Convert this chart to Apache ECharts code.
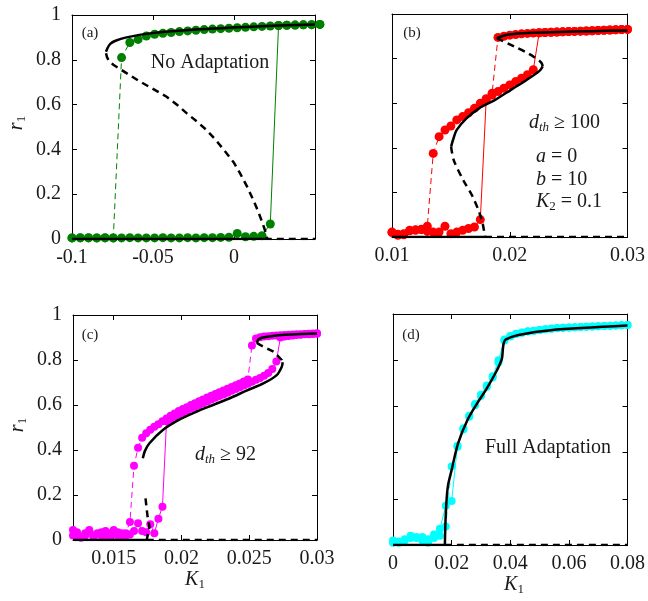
<!DOCTYPE html>
<html lang="en">
<head>
<meta charset="UTF-8" />
<title>r1 vs K1</title>
<style>
  html, body { margin: 0; padding: 0; background: #fff; }
  #main { width: 648px; height: 601px; }
</style>
</head>
<body>
<div id="main"></div>
<script src="https://cdn.jsdelivr.net/npm/echarts@6.0.0/dist/echarts.min.js"></script>
<script>
// ---- (a) no adaptation ----
var aK = [-0.1, -0.0949, -0.0898, -0.0847, -0.0796, -0.0745, -0.0694, -0.0643, -0.0592, -0.0541, -0.049, -0.0439, -0.0388, -0.0337, -0.0286, -0.0235, -0.0184, -0.0133, -0.0082, -0.0031, 0.002, 0.0071, 0.0122, 0.0173, 0.0224, 0.0275, 0.0326, 0.0377, 0.0428, 0.0479, 0.053];
var aFwd = [0.005, 0.005, 0.006, 0.005, 0.005, 0.005, 0.005, 0.006, 0.005, 0.005, 0.005, 0.006, 0.005, 0.005, 0.006, 0.005, 0.006, 0.006, 0.007, 0.008, 0.025, 0.01, 0.012, 0.015, 0.067, 0.953, 0.954, 0.955, 0.956, 0.957, 0.958];
var aBwd = [0.005, 0.006, 0.005, 0.005, 0.006, 0.005, 0.81, 0.877, 0.891, 0.906, 0.914, 0.918, 0.922, 0.926, 0.929, 0.932, 0.935, 0.937, 0.939, 0.941, 0.943, 0.945, 0.947, 0.949, 0.951, 0.953, 0.954, 0.955, 0.956, 0.957, 0.958];
var aStabX = [-0.079, -0.0778, -0.0764, -0.0735, -0.0663, -0.0519, -0.0211, 0.02, 0.05];
var aStabY = [0.836, 0.856, 0.871, 0.884, 0.9, 0.918, 0.936, 0.951, 0.958];
var aUnsX = [-0.079, -0.0784, -0.0772, -0.0745, -0.07, -0.064, -0.0581, -0.05, -0.0416, -0.035, -0.0293, -0.023, -0.017, -0.011, -0.0046, 0, 0.0036, 0.008, 0.0118, 0.0148, 0.0169, 0.0187, 0.02, 0.0205];
var aUnsY = [0.829, 0.812, 0.795, 0.778, 0.757, 0.73, 0.703, 0.67, 0.635, 0.598, 0.562, 0.525, 0.487, 0.44, 0.383, 0.34, 0.295, 0.235, 0.176, 0.125, 0.085, 0.048, 0.02, 0];
var aZeroX = [-0.1, 0.019, 0.05];
var aXTicks = [-0.1, -0.05, 0, 0.05];
var aXLabels = [-0.1, -0.05, 0];

// ---- (b) d_th >= 100 ----
var bK = [0.01, 0.0105, 0.011, 0.0115, 0.012, 0.0125, 0.013, 0.0135, 0.014, 0.0145, 0.015, 0.0155, 0.016, 0.0165, 0.017, 0.0175, 0.018, 0.0185, 0.019, 0.0195, 0.02, 0.0205, 0.021, 0.0215, 0.022, 0.0225, 0.023, 0.0235, 0.024, 0.0245, 0.025, 0.0255, 0.026, 0.0265, 0.027, 0.0275, 0.028, 0.0285, 0.029, 0.0295, 0.03];
var bFwd = [0.022, 0.008, 0.015, 0.03, 0.03, 0.033, 0.025, 0.022, 0.022, 0.048, 0.015, 0.022, 0.03, 0.038, 0.045, 0.078, 0.615, 0.637, 0.652, 0.667, 0.682, 0.697, 0.712, 0.728, 0.75, 0.916, 0.917, 0.918, 0.919, 0.92, 0.921, 0.922, 0.923, 0.924, 0.925, 0.926, 0.927, 0.928, 0.929, 0.93, 0.931];
var bBwd = [0.02, 0.012, 0.01, 0.028, 0.032, 0.035, 0.048, 0.375, 0.45, 0.48, 0.498, 0.525, 0.54, 0.557, 0.577, 0.6, 0.62, 0.645, 0.895, 0.9, 0.905, 0.908, 0.911, 0.913, 0.915, 0.916, 0.917, 0.918, 0.919, 0.92, 0.921, 0.922, 0.923, 0.924, 0.925, 0.926, 0.927, 0.928, 0.929, 0.93, 0.931];
var bStabX = [0.0189, 0.0196, 0.0205, 0.0215, 0.0242, 0.027, 0.03];
var bStabY = [0.892, 0.905, 0.911, 0.915, 0.919, 0.923, 0.926];
var bUns1X = [0.0189, 0.0204, 0.0215, 0.0224, 0.0227, 0.0228];
var bUns1Y = [0.892, 0.854, 0.825, 0.795, 0.78, 0.765];
var bMidX = [0.0228, 0.02255, 0.02146, 0.0201, 0.01876, 0.0174, 0.01632, 0.0155, 0.01518, 0.01502];
var bMidY = [0.765, 0.746, 0.705, 0.66, 0.615, 0.577, 0.532, 0.48, 0.435, 0.405];
var bUns2X = [0.01502, 0.01524, 0.01605, 0.01686, 0.0174, 0.0177, 0.0179];
var bUns2Y = [0.405, 0.345, 0.255, 0.18, 0.112, 0.06, 0];
var bZeroX = [0.01, 0.0179, 0.03];
var bXTicks = [0.01, 0.02, 0.03];

// ---- (c) d_th >= 92 ----
var cK = [0.012, 0.0123, 0.0126, 0.0129, 0.0132, 0.0135, 0.0138, 0.0141, 0.0144, 0.0147, 0.015, 0.0153, 0.0156, 0.0159, 0.0162, 0.0165, 0.0168, 0.0171, 0.0174, 0.0177, 0.018, 0.0183, 0.0186, 0.0189, 0.0192, 0.0195, 0.0198, 0.0201, 0.0204, 0.0207, 0.021, 0.0213, 0.0216, 0.0219, 0.0222, 0.0225, 0.0228, 0.0231, 0.0234, 0.0237, 0.024, 0.0243, 0.0246, 0.0249, 0.0252, 0.0255, 0.0258, 0.0261, 0.0264, 0.0267, 0.027, 0.0273, 0.0276, 0.0279, 0.0282, 0.0285, 0.0288, 0.0291, 0.0294, 0.0297, 0.03];
var cFwd = [0.045, 0.02, 0.015, 0.03, 0.04, 0.02, 0.025, 0.035, 0.015, 0.03, 0.045, 0.02, 0.03, 0.02, 0.025, 0.04, 0.075, 0.04, 0.035, 0.07, 0.03, 0.095, 0.148,
  0.528, 0.538, 0.548, 0.558, 0.567, 0.575, 0.584, 0.592, 0.6, 0.608, 0.616, 0.624, 0.632, 0.64, 0.647, 0.655, 0.663, 0.671, 0.679, 0.687, 0.695, 0.703, 0.712, 0.72, 0.73, 0.742, 0.76, 0.793,
  0.9, 0.905, 0.907, 0.909, 0.911, 0.912, 0.914, 0.915, 0.916, 0.917];
var cBwd = [0.02, 0.035, 0.01, 0.02, 0.045, 0.015, 0.03, 0.02, 0.04, 0.015, 0.025, 0.035, 0.02, 0.03, 0.08, 0.33, 0.41,
  0.455, 0.475, 0.49, 0.503, 0.515, 0.528, 0.54, 0.552, 0.562, 0.573, 0.582, 0.59, 0.6, 0.608, 0.617, 0.625, 0.633, 0.641, 0.649, 0.657, 0.664, 0.672, 0.68, 0.688, 0.696, 0.705, 0.713,
  0.865, 0.896, 0.901, 0.904, 0.906, 0.908, 0.909, 0.91, 0.911, 0.912, 0.913, 0.914, 0.915, 0.916, 0.917, 0.918, 0.919];
var cStabX = [0.02555, 0.0257, 0.026, 0.027, 0.028, 0.03];
var cStabY = [0.876, 0.892, 0.9, 0.909, 0.913, 0.918];
var cUns1X = [0.02555, 0.0258, 0.0268, 0.0274, 0.02747];
var cUns1Y = [0.876, 0.867, 0.837, 0.8, 0.79];
var cMidX = [0.02747, 0.0274, 0.02703, 0.02604, 0.0248, 0.02357, 0.02233, 0.0211, 0.01987, 0.01863, 0.01764, 0.0173, 0.01715];
var cMidY = [0.79, 0.77, 0.733, 0.696, 0.664, 0.63, 0.6, 0.57, 0.536, 0.489, 0.43, 0.395, 0.363];
var cUns2X = [0.01735, 0.0175, 0.01764, 0.01744];
var cUns2Y = [0.185, 0.104, 0.06, 0];
var cZeroX = [0.012, 0.01744, 0.03];
var cXTicks = [0.015, 0.02, 0.025, 0.03];

// ---- (d) full adaptation ----
var dK = [0, 0.002, 0.004, 0.006, 0.008, 0.01, 0.012, 0.014, 0.016, 0.018, 0.02, 0.022, 0.024, 0.026, 0.028, 0.03, 0.032, 0.034, 0.036, 0.038, 0.04, 0.042, 0.044, 0.046, 0.048, 0.05, 0.052, 0.054, 0.056, 0.058, 0.06, 0.062, 0.064, 0.066, 0.068, 0.07, 0.072, 0.074, 0.076, 0.078, 0.08];
var dFwd = [0.01, 0.015, 0.025, 0.03, 0.035, 0.02, 0.01, 0.045, 0.07, 0.17, 0.19, 0.43, 0.5, 0.56, 0.61, 0.65, 0.69, 0.73, 0.8, 0.89, 0.905, 0.915, 0.92, 0.925, 0.928, 0.931, 0.934, 0.937, 0.939, 0.941, 0.942, 0.943, 0.944, 0.945, 0.946, 0.947, 0.948, 0.949, 0.95, 0.951, 0.952];
var dBwd = [0.02, 0.01, 0.02, 0.04, 0.03, 0.035, 0.025, 0.03, 0.04, 0.08, 0.34, 0.425, 0.505, 0.555, 0.605, 0.645, 0.685, 0.725, 0.79, 0.885, 0.903, 0.913, 0.919, 0.924, 0.928, 0.931, 0.934, 0.936, 0.938, 0.94, 0.942, 0.943, 0.944, 0.945, 0.946, 0.947, 0.948, 0.949, 0.95, 0.951, 0.952];
var dRiseX = [0.0177, 0.0179, 0.0183, 0.0188, 0.02, 0.0222, 0.0254, 0.0287, 0.032, 0.0352, 0.0365, 0.0372, 0.0375, 0.0378, 0.0385, 0.0428, 0.0537, 0.08];
var dRiseY = [0, 0.1, 0.2, 0.26, 0.325, 0.44, 0.541, 0.613, 0.678, 0.75, 0.785, 0.81, 0.85, 0.875, 0.89, 0.909, 0.93, 0.95];
var dZeroX = [0, 0.0177, 0.08];
var dXTicks = [0, 0.02, 0.04, 0.06, 0.08];

var rTicks = [0, 0.2, 0.4, 0.6, 0.8, 1];

var FONT = '"Liberation Serif", "Times New Roman", serif';
var TXT = '#1a1a1a';

var myChart = echarts.init(document.getElementById("main"));

var grids = [
  { left: 72, top: 15, width: 243, height: 224 },
  { left: 392, top: 14, width: 246, height: 223 },
  { left: 73, top: 315, width: 244, height: 225 },
  { left: 393, top: 314, width: 245, height: 231 }
];

function fmt(v) {
  return String(+(+v).toFixed(4));
}

// bottom + top x axes for one panel
function xAxes(g, min, max, ticks, labels) {
  var base = {
    type: "value", gridIndex: g, min: min, max: max,
    axisLine: { show: true, onZero: false, lineStyle: { color: "#000", width: 1 } },
    axisTick: { show: true, inside: true, length: 5, customValues: ticks, lineStyle: { color: "#000" } },
    splitLine: { show: false }
  };
  var bottom = Object.assign({}, base, {
    position: "bottom",
    axisLabel: { show: true, customValues: labels, formatter: fmt, margin: 9,
      fontFamily: FONT, fontSize: 20, color: TXT }
  });
  var top = Object.assign({}, base, { position: "top", axisLabel: { show: false } });
  return [bottom, top];
}

function yAxes(g, showLabels) {
  var base = {
    type: "value", gridIndex: g, min: 0, max: 1,
    axisLine: { show: true, onZero: false, lineStyle: { color: "#000", width: 1 } },
    axisTick: { show: true, inside: true, length: 5, customValues: rTicks, lineStyle: { color: "#000" } },
    splitLine: { show: false }
  };
  var left = Object.assign({}, base, {
    position: "left",
    axisLabel: { show: showLabels, customValues: rTicks, formatter: fmt, margin: 11,
      fontFamily: FONT, fontSize: 20, color: TXT }
  });
  var right = Object.assign({}, base, { position: "right", axisLabel: { show: false } });
  return [left, right];
}

function pairs(xs, ys) {
  return xs.map(function (x, i) { return [x, ys[i]]; });
}

// black analytic branch
function curve(g, xs, ys, dashed, smooth) {
  return {
    type: "line", xAxisIndex: 2 * g, yAxisIndex: 2 * g,
    data: pairs(xs, ys), symbol: "none", smooth: smooth ? 0.3 : false,
    lineStyle: { color: "#000", width: 2.5, type: dashed ? [7, 5] : "solid" },
    z: 5, silent: true
  };
}

function flat(g, xs) {
  return [
    curve(g, [xs[0], xs[1]], [0, 0], false),
    curve(g, [xs[1], xs[2]], [0, 0], true)
  ];
}

// simulation sweep, forward solid / backward dashed
function sweep(g, xs, ys, color, dashed, size) {
  return {
    type: "line", xAxisIndex: 2 * g, yAxisIndex: 2 * g,
    data: pairs(xs, ys), symbol: "circle", symbolSize: size,
    showSymbol: true, showAllSymbol: true, clip: false,
    itemStyle: { color: color },
    lineStyle: { color: color, width: 1, type: dashed ? [6, 4] : "solid" },
    z: 3, silent: true
  };
}

var series = [].concat(
  sweep(0, aK, aBwd, "#008000", true, 9),
  sweep(0, aK, aFwd, "#008000", false, 9),
  curve(0, aStabX, aStabY, false, true),
  curve(0, aUnsX, aUnsY, true, false),
  flat(0, aZeroX),

  sweep(1, bK, bBwd, "#ff0000", true, 9),
  sweep(1, bK, bFwd, "#ff0000", false, 9),
  curve(1, bStabX, bStabY, false, true),
  curve(1, bUns1X, bUns1Y, true, true),
  curve(1, bMidX, bMidY, false, true),
  curve(1, bUns2X, bUns2Y, true, true),
  flat(1, bZeroX),

  sweep(2, cK, cBwd, "#ff00ff", true, 8),
  sweep(2, cK, cFwd, "#ff00ff", false, 8),
  curve(2, cStabX, cStabY, false, true),
  curve(2, cUns1X, cUns1Y, true, false),
  curve(2, cMidX, cMidY, false, true),
  curve(2, cUns2X, cUns2Y, true, false),
  flat(2, cZeroX),

  sweep(3, dK, dBwd, "#00ffff", true, 8),
  sweep(3, dK, dFwd, "#00ffff", false, 8),
  curve(3, dRiseX, dRiseY, false, true),
  flat(3, dZeroX)
);

var rich = {
  i: { fontFamily: FONT, fontSize: 20, fontStyle: "italic", color: TXT },
  n: { fontFamily: FONT, fontSize: 20, color: TXT },
  s: { fontFamily: FONT, fontSize: 13, fontStyle: "italic", color: TXT, padding: [9, 0, 0, 0] },
  sn: { fontFamily: FONT, fontSize: 13, color: TXT, padding: [9, 0, 0, 0] }
};

function label(x, y, text, size, align) {
  return {
    type: "text", x: x, y: y, silent: true,
    style: { text: text, fontFamily: FONT, fontSize: size, fill: TXT,
      align: align || "center", verticalAlign: "middle" }
  };
}

function math(x, y, text, align, rot) {
  return {
    type: "text", x: x, y: y, rotation: rot || 0, silent: true,
    style: { text: text, rich: rich, fontFamily: FONT, fontSize: 20, fill: TXT,
      align: align || "left", verticalAlign: "middle" }
  };
}

var option = {
  animation: false,
  backgroundColor: "#fff",
  grid: grids,
  xAxis: [].concat(
    xAxes(0, -0.1, 0.05, aXTicks, aXLabels),
    xAxes(1, 0.01, 0.03, bXTicks, bXTicks),
    xAxes(2, 0.012, 0.03, cXTicks, cXTicks),
    xAxes(3, 0, 0.08, dXTicks, dXTicks)
  ),
  yAxis: [].concat(yAxes(0, true), yAxes(1, false), yAxes(2, true), yAxes(3, false)),
  series: series,
  graphic: [
    label(90, 33, "(a)", 15),
    label(412, 33, "(b)", 15),
    label(90, 335, "(c)", 15),
    label(411, 335, "(d)", 15),
    label(210, 63, "No Adaptation", 20),
    label(548, 448, "Full Adaptation", 20),
    math(529, 123, "{i|d}{s|th}{n| ≥ 100}"),
    math(536, 157, "{i|a}{n| = 0}"),
    math(536, 180, "{i|b}{n| = 10}"),
    math(536, 202, "{i|K}{sn|2}{n| = 0.1}"),
    math(195, 455, "{i|d}{s|th}{n| ≥ 92}"),
    math(17, 123, "{i|r}{sn|1}", "center", Math.PI / 2),
    math(18, 425, "{i|r}{sn|1}", "center", Math.PI / 2),
    math(195, 580, "{i|K}{sn|1}", "center"),
    math(514, 585, "{i|K}{sn|1}", "center")
  ]
};

myChart.setOption(option);
</script>
</body>
</html>
